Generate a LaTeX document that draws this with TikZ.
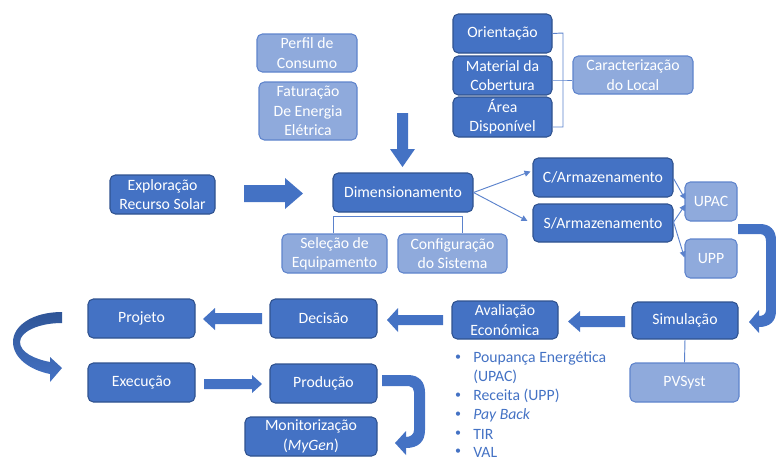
\documentclass[tikz,border=0pt]{standalone}
\usepackage{fontspec}
\setmainfont{Carlito}
\usetikzlibrary{calc,arrows.meta}
\definecolor{dkfill}{HTML}{4472C4}
\definecolor{dkline}{HTML}{2F528F}
\definecolor{ltfill}{HTML}{8FAADC}
\definecolor{ltline}{HTML}{5F84CC}
\definecolor{lncol}{HTML}{5B82CC}
\definecolor{arrcol}{HTML}{4472C4}
\definecolor{arrdark}{HTML}{2F5597}
\definecolor{txtblue}{HTML}{4472C4}
\tikzset{
  basebox/.style={rectangle, rounded corners=4pt, inner sep=1pt, align=center, text=white,
    font=\fontsize{11.8}{14.5}\selectfont, line width=0.8pt},
  dkbox/.style={basebox, fill=dkfill, draw=dkline},
  ltbox/.style={basebox, fill=ltfill, draw=ltline},
  conn/.style={draw=lncol, line width=0.7pt, -{Triangle[length=4.5pt,width=4.5pt]}},
  brk/.style={draw=lncol, line width=0.7pt},
  bultxt/.style={anchor=west, inner sep=0pt, text=txtblue, font=\fontsize{11.8}{14.5}\selectfont},
  buldot/.style={inner sep=0pt, text=txtblue, font=\fontsize{9}{11}\selectfont},
  blockarr/.style={fill=arrcol}
}
\newcommand{\bx}[7]{\node[#6, minimum width={(#4-#2)*0.75pt}, minimum height={(#5-#3)*0.75pt}] (#1) at ({(#2+#4)/2},{(#3+#5)/2}) {#7};}
\begin{document}
\begin{tikzpicture}[x=0.75pt,y=-0.75pt]
\useasboundingbox (0,0) rectangle (776,457);
% top left light boxes
\bx{perfil}{257}{34}{357}{72}{ltbox}{Perfil de\\Consumo}
\bx{fatur}{259}{82}{357}{140}{ltbox}{Faturação\\De Energia\\Elétrica}
% site characterisation
\bx{orient}{453}{14}{552}{53}{dkbox}{Orientação}
\bx{matl}{453}{56}{552}{95}{dkbox}{Material da\\Cobertura}
\bx{area}{453}{97}{552}{137}{dkbox}{Área\\Disponível}
\bx{carac}{573}{56}{693}{94}{ltbox}{Caracterização\\do Local}
\coordinate (bt) at (563,33);
\coordinate (bm) at (563,80);
\coordinate (bb) at (563,127);
\draw[brk] (orient.east) -- (bt) -- (bb) -- (bb -| area.east);
\draw[brk] (bm -| matl.east) -- (bm) -- (bm -| carac.west);
% middle row
\bx{expl}{110}{175}{215}{214}{dkbox}{Exploração\\Recurso Solar}
\bx{dim}{333}{173}{473}{212}{dkbox}{Dimensionamento}
\bx{selec}{282}{234}{387}{273}{ltbox}{Seleção de\\Equipamento}
\bx{config}{398}{234}{507}{273}{ltbox}{Configuração\\do Sistema}
\coordinate (dl) at (333,216);
\coordinate (dr) at (462,216);
\draw[brk] (dl |- selec.north) -- (dl) -- (dr) -- (dr |- config.north);
\bx{carm}{533}{158}{673}{197}{dkbox}{C/Armazenamento}
\bx{sarm}{533}{204}{673}{242}{dkbox}{S/Armazenamento}
\bx{upac}{685}{182}{737}{221}{ltbox}{UPAC}
\bx{upp}{685}{239}{737}{278}{ltbox}{UPP}
\draw[conn] (dim.east) -- ($(carm.west)+(-2,-6)$);
\draw[conn] (dim.east) -- ($(sarm.west)+(-5,-2)$);
\draw[conn] ($(carm.east)+(0,1)$) -- ($(upac.west)+(1,-2)$);
\draw[conn] ($(sarm.east)+(0,-1)$) -- ($(upac.west)+(1,3)$);
\draw[conn] ($(sarm.east)+(0,-1)$) -- ($(upp.west)+(0,-1)$);
% lower rows
\bx{sim}{632}{302}{738}{339}{dkbox}{Simulação}
\bx{pvs}{630}{363}{739}{402}{ltbox}{PVSyst}
\draw[brk] (sim.south) -- (pvs.north);
\bx{aval}{452}{301}{558}{339}{dkbox}{Avaliação\\Económica}
\bx{decis}{270}{299}{377}{338}{dkbox}{Decisão}
\bx{proj}{88}{299}{195}{338}{dkbox}{Projeto}
\bx{exec}{88}{363}{195}{402}{dkbox}{Execução}
\bx{prod}{270}{364}{377}{403}{dkbox}{Produção}
\bx{monit}{245}{417}{377}{456}{dkbox}{Monitorização\\(\textit{MyGen})}
% bullet list
\foreach \yy/\nm in {358/d1,396/d2,415/d3,434/d4,452/d5}{\node[buldot] (\nm) at (458,\yy) {•};}
\node[bultxt] (l1) at (473,358) {Poupança Energética};
\node[bultxt] (l1b) at (473,377) {(UPAC)};
\node[bultxt] (l2) at (473,396) {Receita (UPP)};
\node[bultxt] (l3) at (473,415) {\textit{Pay Back}};
\node[bultxt] (l4) at (473,434) {TIR};
\node[bultxt] (l5) at (473,452) {VAL};
% block arrows
\fill[blockarr] (397,113) -- (408,113) -- (408,149) -- (415,149) -- (402.5,167) -- (390,149) -- (397,149) -- cycle;
\fill[blockarr] (244,185) -- (285,185) -- (285,178) -- (303,193.5) -- (285,209) -- (285,202) -- (244,202) -- cycle;
\fill[blockarr] (625,316) -- (580,316) -- (580,311) -- (568,321.5) -- (580,332) -- (580,327) -- (625,327) -- cycle;
\fill[blockarr] (443,315) -- (398,315) -- (398,308) -- (387,320) -- (398,332) -- (398,325) -- (443,325) -- cycle;
\fill[blockarr] (262,313) -- (215,313) -- (215,308) -- (203,319) -- (215,330) -- (215,324) -- (262,324) -- cycle;
\fill[blockarr] (204,379) -- (252,379) -- (252,375) -- (262,384) -- (252,393) -- (252,389) -- (204,389) -- cycle;
% curved arrow UPAC -> Simulacao
\fill[blockarr] (738,224) -- (760,224) .. controls (770,224) and (776,230) .. (776,240) -- (776,311) .. controls (776,321) and (770,327) .. (759,327) -- (759,333) -- (749,322) -- (759,310) -- (759,316) .. controls (763,316) and (766,314) .. (766,310) -- (766,241) .. controls (766,237) and (764,234) .. (760,234) -- (738,234) -- cycle;
% curved arrow Producao -> Monitorizacao
\fill[blockarr] (382,375) -- (408,375) .. controls (419,375) and (425,382) .. (425,392) -- (425,430) .. controls (425,442) and (418,448) .. (406,448) -- (406,455) -- (395,443) -- (406,431) -- (406,437) .. controls (411,437) and (414,434) .. (414,430) -- (414,392) .. controls (414,389) and (412,386) .. (409,386) -- (382,386) -- cycle;
% curved arrow Projeto -> Execucao
\shade[top color=arrdark, bottom color=arrcol] (62,312) .. controls (32,312) and (13,326) .. (13,342) .. controls (13,358) and (30,370) .. (50,374) -- (50,382) -- (62,368) -- (50,357) -- (50,362) .. controls (34,359) and (20,352) .. (20,342) .. controls (20,332) and (38,323) .. (62,323) -- cycle;
\end{tikzpicture}
\end{document}
